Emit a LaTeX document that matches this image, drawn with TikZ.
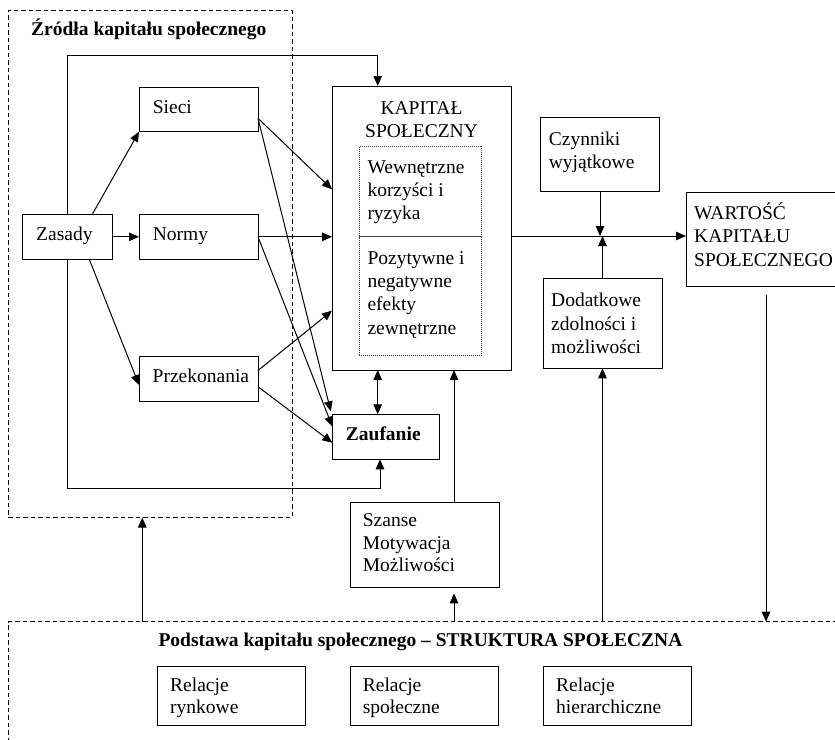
\documentclass[tikz,border=0pt]{standalone}
\usepackage{fontspec}
\setmainfont{Liberation Serif}
\usetikzlibrary{arrows.meta}
\newcommand\dfont{\fontsize{19.5}{23.3}\selectfont}
% fixed first-line height so text nodes can be placed by their first baseline
\newcommand\lnstrut{\rule{0pt}{20pt}}
\begin{document}
\begin{tikzpicture}[x=1pt,y=-1pt,
  box/.style={draw, line width=1pt, inner sep=0pt, outer sep=0pt},
  dashbox/.style={draw, line width=1pt, dash pattern=on 4.5pt off 3pt, inner sep=0pt, outer sep=0pt},
  dotbox/.style={draw=black!75, line width=0.7pt, dash pattern=on 0.8pt off 1.2pt, inner sep=0pt, outer sep=0pt},
  txt/.style={anchor=north west, inner sep=0pt, align=left, font=\dfont},
  ttl/.style={anchor=base west, inner sep=0pt, font=\dfont\bfseries},
  conn/.style={line width=1pt, -{Triangle[length=10pt,width=8.5pt]}},
  biconn/.style={line width=1pt, {Triangle[length=10pt,width=8.5pt]}-{Triangle[length=10pt,width=8.5pt]}}]
\useasboundingbox (0,0) rectangle (835,739);
\clip (0,0) rectangle (835,739);

% ---- grouping frames ----
\node[dashbox, minimum width=283.7pt, minimum height=507.5pt] (zrodla) at (150.15,263.75) {};
\node[dashbox, minimum width=851.7pt, minimum height=138.3pt] (podstawa) at (434.15,690.85) {};
\node[ttl] (zrodla-t) at (31,35) {Źródła kapitału społecznego};
\node[ttl] (podstawa-t) at (158.3,646.7) {Podstawa kapitału społecznego – STRUKTURA SPOŁECZNA};

% ---- sources ----
\node[box, minimum width=89.6pt, minimum height=45pt] (zasady) at (67.5,236.8) {};
\node[box, minimum width=119pt, minimum height=44.4pt] (sieci) at (198.5,109.5) {};
\node[box, minimum width=119pt, minimum height=45pt] (normy) at (198.5,236.8) {};
\node[box, minimum width=119pt, minimum height=44.6pt] (przek) at (198.5,378.7) {};
\node[txt] (zasady-t) at (36,220.7) {\lnstrut Zasady};
\node[txt] (sieci-t) at (152.7,93.3) {\lnstrut Sieci};
\node[txt] (normy-t) at (152.7,220.7) {\lnstrut Normy};
\node[txt] (przek-t) at (152.5,362.5) {\lnstrut Przekonania};

% ---- social capital ----
\node[box, minimum width=179pt, minimum height=284pt] (kap) at (421.5,228) {};
\node[dotbox, minimum width=122.4pt, minimum height=90.7pt] (wewn) at (420.5,191.35) {};
\node[dotbox, minimum width=122.4pt, minimum height=118.3pt] (pozyt) at (420.5,295.85) {};
\node[anchor=north, inner sep=0pt, align=center, font=\dfont] (kap-t) at (421.5,94) {\lnstrut KAPITAŁ\\SPOŁECZNY};
\node[txt] (wewn-t) at (367.3,153) {\lnstrut Wewnętrzne\\korzyści i\\ryzyka};
\node[txt] (pozyt-t) at (367.3,244) {\lnstrut Pozytywne i\\negatywne\\efekty\\zewnętrzne};

\node[box, minimum width=107pt, minimum height=45pt] (zauf) at (385.8,436.8) {};
\node[txt, font=\dfont\bfseries] (zauf-t) at (345.7,420) {\lnstrut Zaufanie};

\node[box, minimum width=149pt, minimum height=85.3pt] (szanse) at (424.5,544.7) {};
\node[txt] (szanse-t) at (362.7,506.7) {\lnstrut Szanse\\[-0.8pt]Motywacja\\[-0.8pt]Możliwości};

% ---- value side ----
\node[box, minimum width=118.6pt, minimum height=74.4pt] (czyn) at (600,154.5) {};
\node[txt] (czyn-t) at (548.7,125) {\lnstrut Czynniki\\wyjątkowe};
\node[box, minimum width=119pt, minimum height=89.6pt] (dod) at (602.5,323.5) {};
\node[txt] (dod-t) at (551,286.7) {\lnstrut Dodatkowe\\zdolności i\\możliwości};
\node[box, minimum width=164pt, minimum height=93.7pt] (wart) at (768,239.2) {};
\node[txt] (wart-t) at (694,199.3) {\lnstrut WARTOŚĆ\\KAPITAŁU\\SPOŁECZNEGO};

% ---- structure ----
\node[box, minimum width=148.4pt, minimum height=58.3pt] (rel1) at (231.5,695.85) {};
\node[box, minimum width=148.4pt, minimum height=58.3pt] (rel2) at (424.2,695.85) {};
\node[box, minimum width=148.4pt, minimum height=58.3pt] (rel3) at (617.5,695.85) {};
\node[txt] (rel1-t) at (170,671.7) {\lnstrut Relacje\\[-1.7pt]rynkowe};
\node[txt] (rel2-t) at (362.7,671.7) {\lnstrut Relacje\\[-1.7pt]społeczne};
\node[txt] (rel3-t) at (556,671.7) {\lnstrut Relacje\\[-1.7pt]hierarchiczne};

% ---- routing helpers ----
\coordinate (railtop) at (0,55);
\coordinate (railbot) at (0,488);
\coordinate (colk) at (377.7,0);
\coordinate (colz) at (380,0);
\coordinate (cols) at (454,0);
\coordinate (colw) at (766,0);
\coordinate (colf) at (142.3,0);
\coordinate (mainy) at (0,236);
\coordinate (sztip) at ([yshift=-6pt]szanse.south);
\coordinate (wstart) at ([yshift=-9pt]wart.south);

% ---- connectors ----
\draw[conn] (zasady.north) |- (railtop -| colk) -- (colk |- kap.north);
\draw[conn] (zasady.south) |- (railbot -| colz) -- (colz |- zauf.south);
\draw[conn] ([xshift=24.8pt]zasady.north) -- (sieci.south west);
\draw[conn] (zasady.east) -- (normy.west);
\draw[conn] ([xshift=21.8pt]zasady.south) -- ([yshift=-6.3pt]przek.west);

\draw[conn] ([yshift=-8.8pt]sieci.east) -- ([yshift=38.7pt]kap.west);
\draw[conn] ([yshift=-8.8pt]sieci.east) -- ([shift={(-1.5,-3)}]zauf.north west);
\draw[conn] (normy.east) -- (kap.west |- normy.east);
\draw[conn] (normy.east) -- ([yshift=10.3pt]zauf.west);
\draw[conn] ([yshift=8.2pt]przek.east) -- ([yshift=-82.7pt]kap.west);
\draw[conn] ([yshift=-8pt]przek.east) -- ([yshift=-5.9pt]zauf.west);

\draw[biconn] (colk |- kap.south) -- (colk |- zauf.north);
\draw[conn] (cols |- szanse.north) -- (cols |- kap.south);

\draw[conn] (kap.east |- mainy) -- (wart.west |- mainy);
\draw[conn] (czyn.south) -- (czyn.south |- mainy);
\draw[conn] (dod.north) -- (dod.north |- mainy);

\draw[conn] (dod.south |- podstawa.north) -- (dod.south);
\draw[conn] (cols |- podstawa.north) -- (sztip -| cols);
\draw[conn] (wstart -| colw) -- (colw |- podstawa.north);
\draw[conn] (colf |- podstawa.north) -- (colf |- zrodla.south);
\end{tikzpicture}
\end{document}
